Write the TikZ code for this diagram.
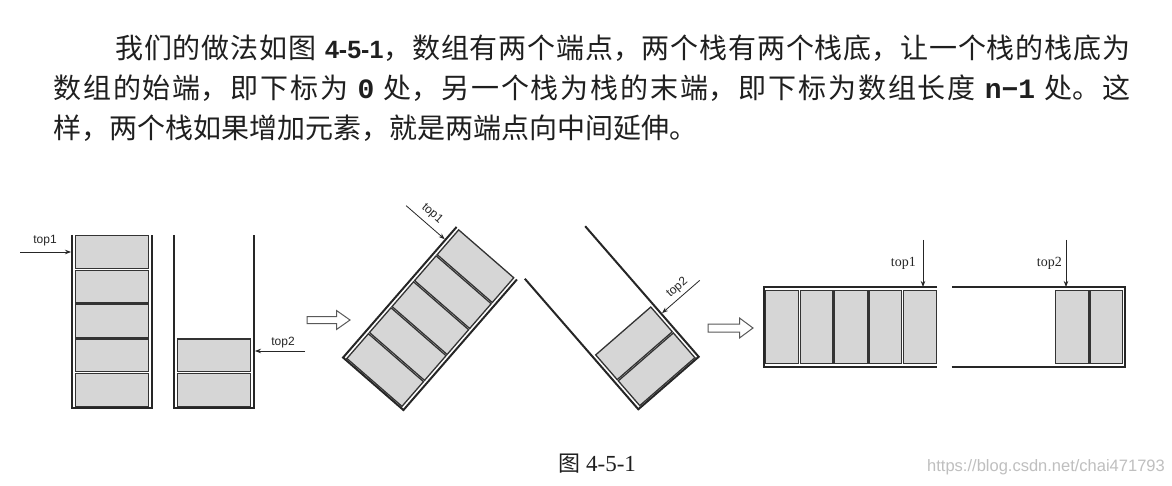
\documentclass[tikz,border=0pt]{standalone}
\usepackage{fontspec}
\setmainfont{Liberation Serif}
\newfontfamily\cjk{Noto Sans CJK SC}
\newfontfamily\lsans{Liberation Sans}
\newfontfamily\lmono{Liberation Mono}
\usetikzlibrary{arrows.meta}
\XeTeXlinebreaklocale "zh"
\XeTeXlinebreakskip=0pt plus 4pt
\tikzset{
 wall/.style={draw=black!85, line width=2pt, line join=miter},
 cell/.style={draw=black!80, fill=black!16, line width=1.3pt, minimum width=73pt, minimum height=32.8pt, inner sep=0pt, transform shape},
 ptr/.style={-{Stealth[length=6pt,width=4.5pt]}, line width=0.8pt, draw=black!85},
 lab/.style={font=\lsans\fontsize{12}{12}\selectfont, inner sep=0pt, anchor=base, transform shape, text=black!85},
 rlab/.style={font=\fontsize{14}{14}\selectfont, inner sep=0pt, anchor=base east, text=black!85},
 hollow/.style={draw=black!65, line width=1pt, fill=white, line join=miter},
 body/.style={inner sep=0pt, anchor=base west, text=black!88, font=\cjk\fontsize{28}{40}\selectfont},
}
\newcommand\mystack[2]{%
  \coordinate (#1tl) at (-40,-86.5);
  \coordinate (#1bl) at (-40,86.5);
  \coordinate (#1br) at (40,86.5);
  \coordinate (#1tr) at (40,-86.5);
  \draw[wall] (#1tl) -- (#1bl) -- (#1br) -- (#1tr);
  \foreach \i in {1,...,#2}{\node[cell] (#1c\i) at (0,{68.3-(\i-1)*34.4}) {};}
}
\begin{document}
\begin{tikzpicture}[x=1pt,y=-1pt]
\fill[white] (0,0) rectangle (1172,486);
\useasboundingbox (0,0) rectangle (1172,486);

% paragraph
\node[body] (line1) at (115,58.5) {\parbox[b]{1015pt}{\parfillskip=0pt 我们的做法如图\hspace{9pt}{\lsans\bfseries\fontsize{25}{25}\selectfont 4-5-1}，数组有两个端点，两个栈有两个栈底，让一个栈的栈底为}};
\node[body] (line2) at (53,98.5) {\parbox[b]{1077pt}{\parfillskip=0pt 数组的始端，即下标为\hspace{9pt}{\lmono\bfseries 0}\hspace{9pt}处，另一个栈为栈的末端，即下标为数组长度\hspace{9pt}{\lmono\bfseries n−1}\hspace{9pt}处。这}};
\node[body] (line3) at (53,138.5) {样，两个栈如果增加元素，就是两端点向中间延伸。};

% left upright stacks
\begin{scope}[shift={(112,321.5)}]
  \mystack{A}{5}
  \coordinate (Ap1) at (-92,-69.5);
  \coordinate (Ap2) at (-41,-69.5);
  \draw[ptr] (Ap1) -- (Ap2);
  \node[lab] (Atop) at (-67,-77.5) {top1};
\end{scope}
\begin{scope}[shift={(214,321.5)}]
  \mystack{B}{2}
  \coordinate (Bp1) at (91,29.5);
  \coordinate (Bp2) at (41,29.5);
  \draw[ptr] (Bp1) -- (Bp2);
  \node[lab] (Btop) at (69,23.5) {top2};
\end{scope}

% hollow arrow 1
\draw[hollow] (307,316.5) -- (336.5,316.5) -- (336.5,310.5) -- (350,320) -- (336.5,329.5) -- (336.5,323.5) -- (307,323.5) -- cycle;

% tilted stacks
\begin{scope}[shift={(430,318.5)}, rotate=-41]
  \mystack{C}{5}
  \coordinate (Cp1) at (-92,-69.5);
  \coordinate (Cp2) at (-41,-69.5);
  \draw[ptr] (Cp1) -- (Cp2);
  \node[lab] (Ctop) at (-67,-77.5) {top1};
\end{scope}
\begin{scope}[shift={(611.75,317.75)}, rotate=41]
  \mystack{D}{2}
  \coordinate (Dp1) at (91,29.5);
  \coordinate (Dp2) at (41,29.5);
  \draw[ptr] (Dp1) -- (Dp2);
  \node[lab] (Dtop) at (69,23.5) {top2};
\end{scope}

% hollow arrow 2
\draw[hollow] (708,324) -- (739.5,324) -- (739.5,318) -- (753,328) -- (739.5,338) -- (739.5,332) -- (708,332) -- cycle;

% horizontal stacks
\begin{scope}[shift={(850.5,327)}, rotate=-90]
  \mystack{E}{5}
\end{scope}
\begin{scope}[shift={(1038,327)}, rotate=90]
  \mystack{F}{2}
\end{scope}
\coordinate (Ep1) at (923,240);
\coordinate (Ep2) at (923,287);
\draw[ptr] (Ep1) -- (Ep2);
\node[rlab] (Etop) at (916,266) {top1};
\coordinate (Fp1) at (1066,240);
\coordinate (Fp2) at (1066,287);
\draw[ptr] (Fp1) -- (Fp2);
\node[rlab] (Ftop) at (1062,266) {top2};

% caption and watermark
\node[anchor=base, inner sep=0pt, text=black!88] (cap) at (597,471) {{\cjk\fontsize{22}{22}\selectfont 图}\hspace{6pt}{\fontsize{23}{23}\selectfont 4-5-1}};
\node[anchor=base east, inner sep=0pt, text=black!25, font=\lsans\fontsize{16.5}{16.5}\selectfont] (wm) at (1165,471) {https://blog.csdn.net/chai471793};
\end{tikzpicture}
\end{document}
